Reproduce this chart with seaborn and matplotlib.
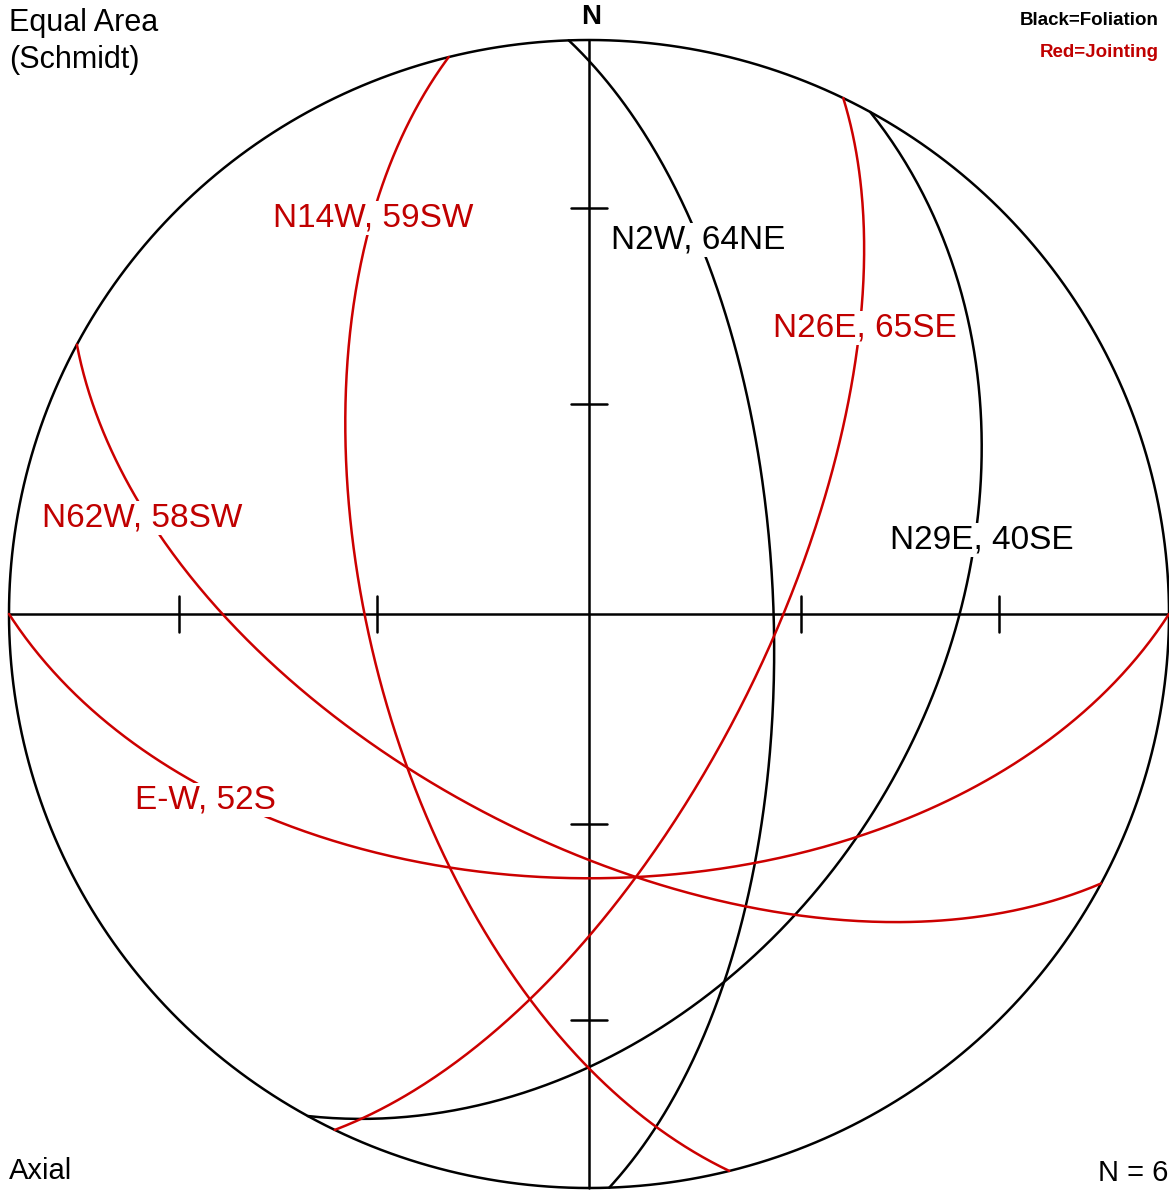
import numpy as np
import pandas as pd
import matplotlib.pyplot as plt
import seaborn as sns

# ----------------------------
# Plane data (strike by right-hand rule, dip in degrees)
# ----------------------------
labels = ["N2W, 64NE", "N29E, 40SE", "N14W, 59SW", "N26E, 65SE", "N62W, 58SW", "E-W, 52S"]
strikes = [358, 29, 166, 26, 118, 90]
dips = [64, 40, 59, 65, 58, 52]
kinds = ["Foliation", "Foliation", "Jointing", "Jointing", "Jointing", "Jointing"]
tick_colats = [30, 60]
n_planes = len(labels)

line_colors = {"Foliation": "black", "Jointing": "#cc0000"}
text_colors = {"Foliation": "black", "Jointing": "#c00000"}

# label centres in image pixels (layout only)
label_px = [(698, 240), (982, 540), (373, 218), (865, 328), (142, 518), (205, 800)]

CX, CY, RX, RY = 589, 614, 580, 574
W, H = 1169, 1191


def px(x, y):
    return (x - CX) / RX, (CY - y) / RY


def great_circle(strike, dip):
    s = np.radians(strike)
    dd = np.radians(strike + 90)
    d = np.radians(dip)
    t = np.radians(np.linspace(0, 180, 361))
    sv = np.array([np.sin(s), np.cos(s), 0.0])
    dv = np.array([np.sin(dd) * np.cos(d), np.cos(dd) * np.cos(d), -np.sin(d)])
    v = np.outer(np.cos(t), sv) + np.outer(np.sin(t), dv)
    k = 1 / np.sqrt(1 - np.minimum(v[:, 2], 0))
    return v[:, 0] * k, v[:, 1] * k


sns.set_style("white")
plt.rcParams["font.family"] = ["Liberation Sans", "DejaVu Sans"]
plt.rcParams["text.color"] = "black"

fig = plt.figure(figsize=(W / 100, H / 100), dpi=100)
ax = fig.add_axes([0, 0, 1, 1])
ax.set_xlim(-CX / RX, (W - CX) / RX)
ax.set_ylim(-(H - CY) / RY, CY / RY)
ax.axis("off")

lw = 1.8

# ----------------------------
# Primitive circle and axes
# ----------------------------
th = np.linspace(0, 2 * np.pi, 721)
ax.plot(np.cos(th), np.sin(th), color="black", lw=lw, zorder=2)
ax.plot([-1, 1], [0, 0], color="black", lw=lw, zorder=2)
ax.plot([0, 0], [-1, 1], color="black", lw=lw, zorder=2)

for c in tick_colats:
    r = np.sqrt(2) * np.sin(np.radians(c) / 2)
    for sgn in (-1, 1):
        ax.plot([sgn * r, sgn * r], [-18 / RY, 18 / RY], color="black", lw=lw, zorder=2)
        ax.plot([-18 / RX, 18 / RX], [sgn * r, sgn * r], color="black", lw=lw, zorder=2)

# ----------------------------
# Great circles
# ----------------------------
for i in range(n_planes):
    gx, gy = great_circle(strikes[i], dips[i])
    df = pd.DataFrame({"x": gx, "y": gy})
    sns.lineplot(data=df, x="x", y="y", sort=False, estimator=None,
                 color=line_colors[kinds[i]], lw=lw, ax=ax, zorder=3)
    lx, ly = px(*label_px[i])
    ax.text(lx, ly, labels[i], color=text_colors[kinds[i]],
            fontsize=24, ha="center", va="center", zorder=5,
            bbox=dict(facecolor="white", edgecolor="none", pad=1))

ax.set_xlabel("")
ax.set_ylabel("")

# ----------------------------
# Annotations
# ----------------------------
x, y = px(9, 23)
ax.text(x, y, "Equal Area", fontsize=22, ha="left", va="center")
x, y = px(9, 60)
ax.text(x, y, "(Schmidt)", fontsize=22, ha="left", va="center")
x, y = px(591, 17)
ax.text(x, y, "N", fontsize=20, fontweight="bold", ha="center", va="center")
x, y = px(1159, 20)
ax.text(x, y, "Black=Foliation", fontsize=13.5, fontweight="bold", ha="right", va="center")
x, y = px(1159, 52)
ax.text(x, y, "Red=Jointing", fontsize=13.5, fontweight="bold", color="#c00000", ha="right", va="center")
x, y = px(9, 1171)
ax.text(x, y, "Axial", fontsize=21, ha="left", va="center")
x, y = px(1098, 1173)
ax.text(x, y, "N = 6", fontsize=21, ha="left", va="center")

fig.savefig("out.png", dpi=100)
plt.close(fig)
